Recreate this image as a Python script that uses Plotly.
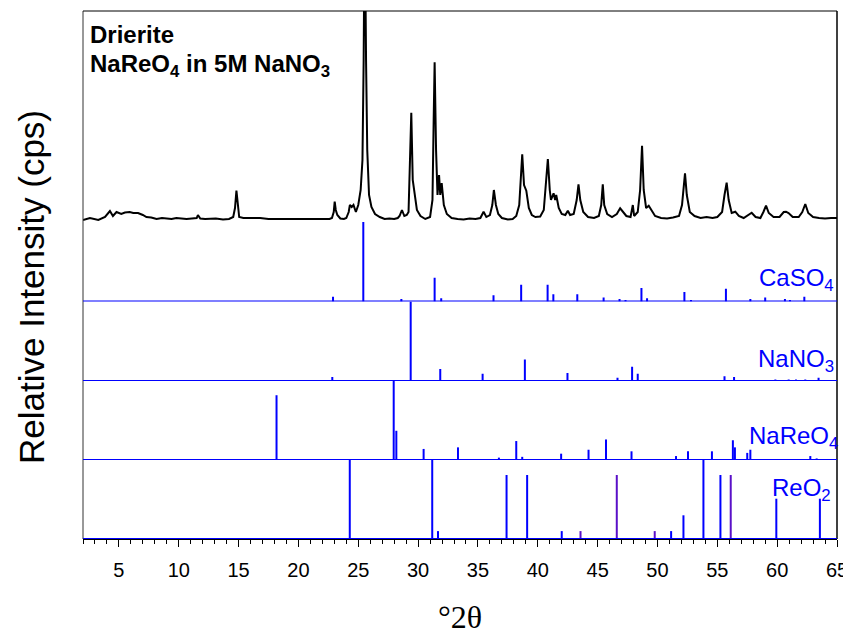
import plotly.graph_objects as go

# ---------------- data ----------------
# measured pattern (Drierite / NaReO4 in 5M NaNO3), 2theta and relative intensity
sample_2theta = [
    2.0, 2.58, 3.28, 3.84, 4.25, 4.5, 4.8, 5.2, 5.5, 5.9, 6.2, 6.6, 7.0, 7.3, 7.7, 8.15,
    8.6, 9.0, 9.4, 9.8, 10.2, 10.65, 11.1, 11.5, 11.6, 11.8, 12.2, 12.6, 13.1, 13.7, 14.2,
    14.55, 14.7, 14.82, 14.95, 15.05, 15.4, 15.7, 16.2, 16.8, 17.5, 18.2, 18.9, 19.6,
    20.3, 21.0, 21.6, 22.2, 22.6, 22.8, 22.95, 23.03, 23.12, 23.25, 23.5, 23.8, 24.0,
    24.2, 24.3, 24.45, 24.6, 24.8, 25.0, 25.2, 25.35, 25.45, 25.54, 25.65, 25.75, 25.9,
    26.1, 26.4, 26.8, 27.2, 27.6, 28.0, 28.3, 28.45, 28.65, 28.85, 29.05, 29.2, 29.35,
    29.43, 29.55, 29.71, 29.9, 30.2, 30.6, 31.0, 31.2, 31.3, 31.38, 31.5, 31.62, 31.75,
    31.85, 31.97, 32.15, 32.4, 32.8, 33.3, 33.8, 34.3, 34.8, 35.2, 35.47, 35.7, 36.0,
    36.2, 36.33, 36.5, 36.7, 37.0, 37.5, 37.9, 38.2, 38.45, 38.6, 38.7, 38.85, 39.04,
    39.25, 39.5, 39.8, 40.2, 40.5, 40.7, 40.84, 41.0, 41.1, 41.32, 41.45, 41.54, 41.75,
    42.0, 42.3, 42.51, 42.7, 43.0, 43.25, 43.4, 43.55, 43.8, 44.2, 44.7, 45.1, 45.3,
    45.43, 45.55, 45.8, 46.2, 46.6, 46.88, 47.1, 47.4, 47.75, 47.85, 47.94, 48.05,
    48.35, 48.55, 48.71, 48.85, 49.05, 49.27, 49.5, 49.8, 50.3, 50.8, 51.3, 51.8, 52.05,
    52.2, 52.3, 52.45, 52.7, 53.1, 53.6, 54.1, 54.6, 55.0, 55.4, 55.6, 55.78, 55.95,
    56.2, 56.5, 56.8, 57.2, 57.5, 57.87, 58.2, 58.6, 58.85, 59.07, 59.3, 59.7, 60.2,
    60.55, 60.74, 60.95, 61.3, 61.8, 62.1, 62.35, 62.6, 63.0, 63.5, 64.0, 64.5, 65.0,
]
sample_intensity = [
    2.0, 4.0, 2.0, 5.0, 11.0, 6.0, 10.0, 8.0, 9.5, 10.0, 9.0, 9.0, 7.0, 5.0, 4.5, 3.0,
    4.0, 3.5, 3.0, 4.0, 3.5, 3.0, 3.5, 4.0, 7.0, 3.5, 3.0, 3.0, 3.5, 2.5, 3.0,
    5.0, 14.0, 31.5, 12.0, 5.0, 4.0, 4.0, 3.5, 4.0, 3.0, 3.0, 2.5, 3.0,
    2.5, 3.0, 2.5, 3.0, 3.0, 4.0, 10.0, 20.3, 12.0, 7.0, 3.5, 3.0, 4.0,
    10.0, 17.0, 15.0, 17.0, 10.0, 17.0, 32.0, 62.0, 162.0, 320.0, 162.0, 72.0, 27.0,
    15.0, 8.0, 5.0, 3.0, 3.5, 3.0, 4.0, 6.0, 12.0, 6.0, 7.0, 10.0, 62.0,
    109.3, 42.0, 29.0, 12.0, 6.0, 3.0, 5.0, 22.0, 102.0, 159.7, 72.0, 27.0, 47.0,
    27.0, 39.0, 17.0, 8.0, 4.0, 3.0, 2.5, 3.5, 3.0, 4.0, 10.3, 5.0, 7.0,
    17.0, 32.0, 17.0, 8.0, 4.0, 2.5, 3.0, 6.0, 17.0, 52.0, 67.7, 37.0, 31.3,
    14.0, 7.0, 5.0, 5.5, 12.0, 42.0, 63.0, 32.0, 22.0, 28.7, 22.0, 27.0, 14.0,
    8.0, 7.0, 11.3, 7.0, 8.0, 22.0, 37.7, 22.0, 10.0, 5.0, 4.0, 6.0, 17.0,
    37.7, 17.0, 8.0, 5.0, 8.0, 13.7, 10.0, 6.0, 5.0, 12.0, 17.0, 6.0,
    10.0, 32.0, 76.3, 32.0, 14.0, 16.3, 12.0, 6.0, 4.0, 3.5, 4.5, 6.0, 17.0,
    37.0, 48.7, 27.0, 10.0, 6.0, 4.0, 5.0, 4.0, 5.0, 10.0, 27.0, 39.3, 22.0,
    9.0, 10.3, 6.0, 4.0, 6.0, 9.3, 5.0, 4.0, 10.0, 16.3, 9.0, 5.0, 5.0,
    10.0, 10.3, 9.0, 5.0, 5.0, 10.0, 18.0, 9.0, 5.0, 4.0, 3.5, 4.0, 4.0,
]

# reference stick patterns (2theta, relative intensity %)
caso4_2theta = [22.89, 25.42, 28.6, 31.38, 31.93, 36.3, 38.61, 40.82, 41.3, 43.3, 45.5,
                46.83, 47.33, 48.66, 49.13, 52.25, 52.8, 55.72, 57.76, 59.0, 60.65, 61.07, 62.27]
caso4_int = [6, 100, 3, 30, 4, 8, 21, 21, 9, 9, 5,
             3, 2, 17, 4, 12, 2, 16, 3, 5, 3, 2, 6]

nano3_2theta = [22.83, 29.38, 31.85, 35.39, 38.92, 42.48, 46.66, 47.88, 48.35, 55.6,
                56.4, 59.85, 60.96, 61.57, 62.35, 63.46]
nano3_int = [5, 100, 15, 9, 27, 10, 4, 18, 9, 6, 5, 2, 2, 2, 2, 4]

nareo4_2theta = [18.17, 27.96, 28.18, 30.46, 33.33, 36.75, 38.2, 38.7, 41.95, 44.24, 45.7,
                 47.83, 51.55, 52.55, 54.55, 56.3, 56.47, 57.5, 57.76, 62.77, 63.3]
nareo4_int = [82, 100, 37, 14, 16, 3, 24, 4, 8, 13, 26, 11, 5, 11, 11, 25, 16, 9, 13, 5, 2]

reo2_2theta = [24.29, 31.18, 31.66, 37.39, 39.11, 42.0, 51.14, 52.17, 53.84, 55.26, 59.93, 63.57]
reo2_int = [100, 100, 10, 81, 81, 10, 10, 30, 100, 81, 51, 51]
reo2b_2theta = [43.57, 46.6, 49.77, 56.12]
reo2b_int = [10, 81, 10, 81]

BLUE = "#0000FF"
PURPLE = "#5A10C8"
FONT = "Arial, Liberation Sans, sans-serif"


def sticks(xs, hs):
    X, Y = [], []
    for x, h in zip(xs, hs):
        X += [x, x, None]
        Y += [0, h, None]
    return X, Y


fig = go.Figure()

fig.add_trace(go.Scatter(x=sample_2theta, y=sample_intensity, mode="lines",
                         line=dict(color="black", width=2), yaxis="y", showlegend=False))

for xs, hs, ax, col in [(caso4_2theta, caso4_int, "y2", BLUE),
                        (nano3_2theta, nano3_int, "y3", BLUE),
                        (nareo4_2theta, nareo4_int, "y4", BLUE),
                        (reo2_2theta, reo2_int, "y5", BLUE),
                        (reo2b_2theta, reo2b_int, "y5", PURPLE)]:
    X, Y = sticks(xs, hs)
    fig.add_trace(go.Scatter(x=X, y=Y, mode="lines", line=dict(color=col, width=2),
                             yaxis=ax, showlegend=False, hoverinfo="skip"))

# panel domains (bottom to top)
h = 528.0
d1 = 79 / h
d2 = 158 / h
d3 = 237.5 / h
d4 = 317 / h
hidden = dict(visible=False, fixedrange=True)
# the page body has an 8px margin, so the figure is 8px smaller and margins are reduced
fig.update_layout(
    width=843, height=626,
    margin=dict(l=75, r=14, t=3, b=95),
    paper_bgcolor="white", plot_bgcolor="white",
    xaxis=dict(range=[2, 65], anchor="y5", tickmode="linear", tick0=0, dtick=5,
               ticks="outside", ticklen=7, tickwidth=1, tickcolor="black",
               minor=dict(dtick=1, tick0=0, ticks="outside", ticklen=4, tickwidth=1,
                          tickcolor="black"),
               showline=True, linecolor="black", linewidth=1,
               showgrid=False, zeroline=False, ticklabelstandoff=6,
               tickfont=dict(family=FONT, size=20, color="black")),
    yaxis=dict(domain=[d4, 1], range=[0, 211], **hidden),
    yaxis2=dict(domain=[d3, d4], range=[0, 100], anchor="x", **hidden),
    yaxis3=dict(domain=[d2, d3], range=[0, 100], anchor="x", **hidden),
    yaxis4=dict(domain=[d1, d2], range=[0, 100], anchor="x", **hidden),
    yaxis5=dict(domain=[0, d1], range=[0, 100], anchor="x", **hidden),
)

shapes = [
    dict(type="line", xref="paper", yref="paper", x0=0, x1=0, y0=0, y1=1,
         line=dict(color="#333333", width=1)),
    dict(type="line", xref="paper", yref="paper", x0=0, x1=1, y0=1, y1=1,
         line=dict(color="black", width=1)),
    dict(type="line", xref="paper", yref="paper", x0=1, x1=1, y0=0, y1=1,
         line=dict(color="black", width=1.5)),
]
for ax in ["y2", "y3", "y4", "y5"]:
    shapes.append(dict(type="line", xref="paper", yref=ax, x0=0, x1=1, y0=0, y1=0,
                       line=dict(color=BLUE, width=2)))
fig.update_layout(shapes=shapes)


def py(p):
    # page pixel y (reference) -> paper fraction of the 528 px plot area (11..539)
    return (539 - p) / 528.0


def px(p):
    # page pixel x (reference) -> paper fraction of the 754 px plot area (83..837)
    return (p - 83) / 754.0


ann = []
ann.append(dict(text="<b>Drierite</b>", xref="paper", yref="paper", x=px(88),
                y=py(35), xanchor="left", yanchor="middle", showarrow=False,
                font=dict(family=FONT, size=24, color="black")))
ann.append(dict(text="<b>NaReO<sub>4</sub> in 5M NaNO<sub>3</sub></b>", xref="paper",
                yref="paper", x=px(88), y=py(65), xanchor="left",
                yanchor="middle", showarrow=False,
                font=dict(family=FONT, size=24, color="black")))
for txt, yc, xr in [("CaSO<sub>4</sub>", 279, 836), ("NaNO<sub>3</sub>", 360, 836),
                    ("NaReO<sub>4</sub>", 437, 840), ("ReO<sub>2</sub>", 489, 833)]:
    ann.append(dict(text=txt, xref="paper", yref="paper", x=px(xr), y=py(yc),
                    xanchor="right", yanchor="middle", showarrow=False,
                    font=dict(family=FONT, size=24, color=BLUE)))
ann.append(dict(text="Relative Intensity (cps)", xref="paper", yref="paper",
                x=px(31), y=py(287), textangle=-90, xanchor="center",
                yanchor="middle", showarrow=False,
                font=dict(family=FONT, size=35, color="black")))
ann.append(dict(text="°2θ", xref="paper", yref="paper", x=0.5, y=py(617),
                xanchor="center", yanchor="middle", showarrow=False,
                font=dict(family="Times New Roman, Liberation Serif, serif", size=32,
                          color="black")))
fig.update_layout(annotations=ann)

fig.write_html("out.html")
